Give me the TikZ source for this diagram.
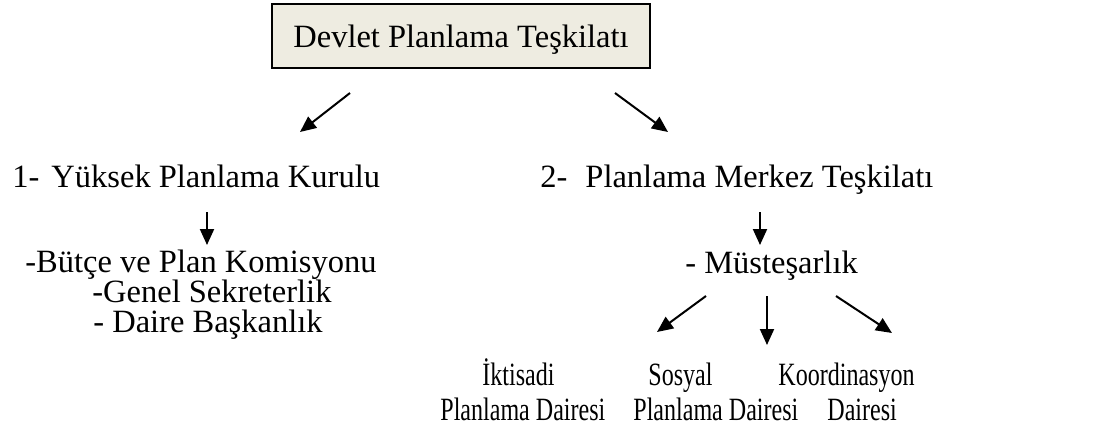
\documentclass[tikz,border=0pt]{standalone}
\usepackage{fontspec}
\setmainfont{Liberation Serif}
\newfontfamily\narrowserif[FakeStretch=0.74]{Liberation Serif}
\usetikzlibrary{positioning, arrows.meta}
\definecolor{boxfill}{HTML}{EEECE1}

\begin{document}
\begin{tikzpicture}[
    x=0.5pt, y=-0.5pt,
    unitbox/.style={draw=black, line width=1pt, fill=boxfill, rectangle, minimum width=189pt, minimum height=32pt, text depth=0pt, font=\fontsize{16.25}{15}\selectfont},
    unitlabel/.style={inner sep=0pt, anchor=base west, align=left, font=\fontsize{16.25}{15}\selectfont},
    subunit/.style={inner sep=0pt, anchor=base west, align=left, font=\narrowserif\fontsize{16.25}{17.5}\selectfont},
    link/.style={line width=1pt, -{Triangle[length=8pt, width=7pt]}}
]
\useasboundingbox (0,0) rectangle (1100,429);

% Birimler
\node[unitbox] (dpt) at (461,36) {Devlet Planlama Teşkilatı};
\node[unitlabel] (ypk) at (12,187) {1-\hspace{6pt}Yüksek Planlama Kurulu};
\node[unitlabel] (pmt) at (540,187) {2-\hspace{9pt}Planlama Merkez Teşkilatı};
\node[unitlabel] (ypkalt) at (25,332) {-Bütçe ve Plan Komisyonu\\
    \hspace*{33.5pt}-Genel Sekreterlik\\
    \hspace*{34pt}- Daire Başkanlık};
\node[unitlabel] (mus) at (685,273) {- Müsteşarlık};
\node[subunit] (ikt) at (440,420) {\hspace*{21pt}İktisadi\\Planlama Dairesi};
\node[subunit] (sos) at (633,420) {\hspace*{7.5pt}Sosyal\\Planlama Dairesi};
\node[subunit] (koo) at (778,420) {Koordinasyon\\\hspace*{24.5pt}Dairesi};

% Ok uçları
\coordinate (dptl) at (350,93);  \coordinate (ypkt) at (300,132);
\coordinate (dptr) at (615,93);  \coordinate (pmtt) at (668,132);
\coordinate (ypkb) at (207,212); \coordinate (altt) at (207,245);
\coordinate (pmtb) at (760,212); \coordinate (must) at (760,245);
\coordinate (musl) at (706,296); \coordinate (iktt) at (657,332);
\coordinate (musm) at (767,296); \coordinate (sost) at (767,345);
\coordinate (musr) at (836,296); \coordinate (koot) at (892,333);

% Oklar
\draw[link] (dptl) -- (ypkt);
\draw[link] (dptr) -- (pmtt);
\draw[link] (ypkb) -- (altt);
\draw[link] (pmtb) -- (must);
\draw[link] (musl) -- (iktt);
\draw[link] (musm) -- (sost);
\draw[link] (musr) -- (koot);

\end{tikzpicture}
\end{document}
